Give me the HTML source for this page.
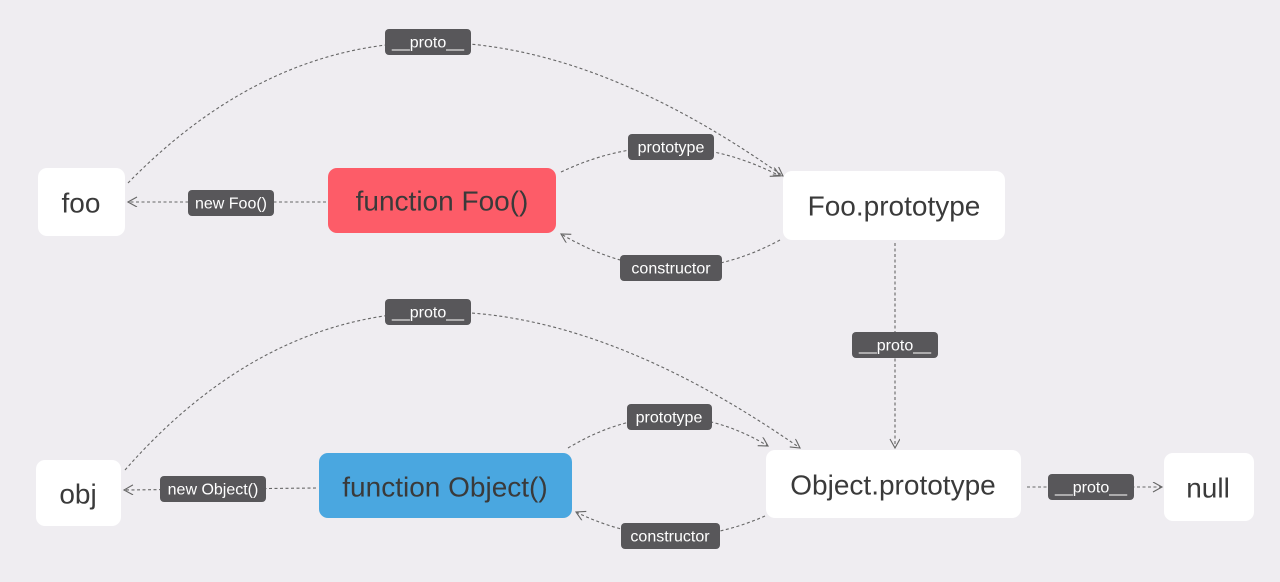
<!DOCTYPE html>
<html><head><meta charset="utf-8"><style>
html,body{margin:0;padding:0;background:#efedf1;}
svg{display:block;font-family:"Liberation Sans",sans-serif;}
.n{fill:#fff;}
.t{font-size:28px;fill:#3a3a3a;text-anchor:middle;dominant-baseline:central;}
.l{fill:#58575a;}
.lt{font-size:16px;fill:#fff;text-anchor:middle;dominant-baseline:central;}
.c{fill:none;stroke:#666;stroke-width:1.1;stroke-dasharray:3 2.5;}
</style></head><body>
<svg width="1280" height="582" viewBox="0 0 1280 582">
<defs><marker id="a" markerWidth="12" markerHeight="12" refX="10" refY="5" orient="auto" markerUnits="userSpaceOnUse"><path d="M1,0 L10,5 L1,10" fill="none" stroke="#666" stroke-width="1.1"/></marker></defs>
<path class="c" d="M128,183 Q400,-95 783,176" marker-end="url(#a)"/>
<path class="c" d="M561,172 Q671,120 780,176" marker-end="url(#a)"/>
<path class="c" d="M780,240 Q671,299 561,234" marker-end="url(#a)"/>
<path class="c" d="M125,470 Q393,165 800,448" marker-end="url(#a)"/>
<path class="c" d="M568,448 Q670,387 768,446" marker-end="url(#a)"/>
<path class="c" d="M765,516 Q670,558 576,512" marker-end="url(#a)"/>
<path class="c" d="M895,243 L895,448" marker-end="url(#a)"/>
<path class="c" d="M326,202 L128,202" marker-end="url(#a)"/>
<path class="c" d="M316,488 L124,490" marker-end="url(#a)"/>
<path class="c" d="M1027,487 L1162,487" marker-end="url(#a)"/>
<rect class="n" x="38" y="168" width="87" height="68" rx="9"/><text class="t" x="81" y="203">foo</text>
<rect x="328" y="168" width="228" height="65" rx="9" fill="#fd5c68"/><text class="t" x="442" y="201">function Foo()</text>
<rect class="n" x="783" y="171" width="222" height="69" rx="9"/><text class="t" x="894" y="206">Foo.prototype</text>
<rect class="n" x="36" y="460" width="85" height="66" rx="9"/><text class="t" x="78" y="494">obj</text>
<rect x="319" y="453" width="253" height="65" rx="9" fill="#4aa7e0"/><text class="t" x="445" y="487">function Object()</text>
<rect class="n" x="766" y="450" width="255" height="68" rx="9"/><text class="t" x="893" y="485">Object.prototype</text>
<rect class="n" x="1164" y="453" width="90" height="68" rx="9"/><text class="t" x="1208" y="488">null</text>
<rect class="l" x="385" y="29" width="86" height="26" rx="4"/><text class="lt" x="428" y="43">__proto__</text>
<rect class="l" x="628" y="134" width="86" height="26" rx="4"/><text class="lt" x="671" y="148">prototype</text>
<rect class="l" x="188" y="190" width="86" height="26" rx="4"/><text class="lt" x="231" y="204">new Foo()</text>
<rect class="l" x="620" y="255" width="102" height="26" rx="4"/><text class="lt" x="671" y="269">constructor</text>
<rect class="l" x="852" y="332" width="86" height="26" rx="4"/><text class="lt" x="895" y="346">__proto__</text>
<rect class="l" x="385" y="299" width="86" height="26" rx="4"/><text class="lt" x="428" y="313">__proto__</text>
<rect class="l" x="627" y="404" width="85" height="26" rx="4"/><text class="lt" x="669" y="418">prototype</text>
<rect class="l" x="160" y="476" width="106" height="26" rx="4"/><text class="lt" x="213" y="490">new Object()</text>
<rect class="l" x="621" y="523" width="99" height="26" rx="4"/><text class="lt" x="670" y="537">constructor</text>
<rect class="l" x="1048" y="474" width="86" height="26" rx="4"/><text class="lt" x="1091" y="488">__proto__</text>
</svg>
</body></html>
